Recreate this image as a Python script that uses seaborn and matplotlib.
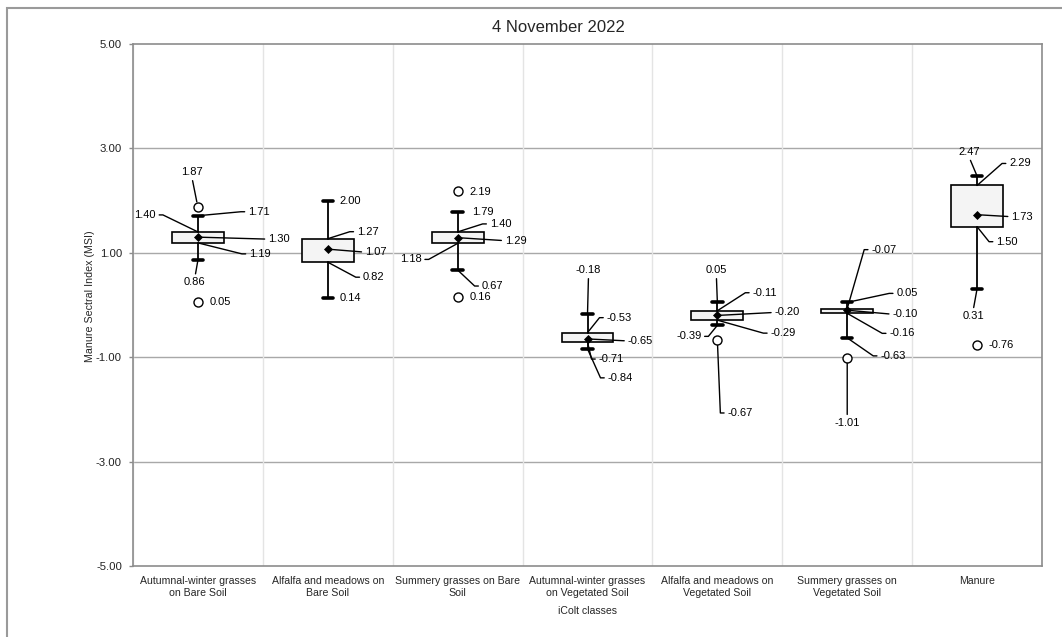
import numpy as np
import pandas as pd
import matplotlib
matplotlib.use("Agg")
import matplotlib.pyplot as plt
from matplotlib.patches import Rectangle
import seaborn as sns

# ================= DATA =================
categories = [
    "Autumnal-winter grasses\non Bare Soil",
    "Alfalfa and meadows on\nBare Soil",
    "Summery grasses on Bare\nSoil",
    "Autumnal-winter grasses\non Vegetated Soil",
    "Alfalfa and meadows on\nVegetated Soil",
    "Summery grasses on\nVegetated Soil",
    "Manure",
]
whis_hi = [1.71, 2.00, 1.79, -0.18, 0.05, 0.05, 2.47]
q3 = [1.40, 1.27, 1.40, -0.53, -0.11, -0.07, 2.29]
means = [1.30, 1.07, 1.29, -0.65, -0.20, -0.10, 1.73]
q1 = [1.19, 0.82, 1.18, -0.71, -0.29, -0.16, 1.50]
whis_lo = [0.86, 0.14, 0.67, -0.84, -0.39, -0.63, 0.31]
outliers = [[1.87, 0.05], [], [2.19, 0.16], [], [-0.67], [-1.01], [-0.76]]
y_ticks = [-5, -3, -1, 1, 3, 5]

# label placement (offsets in pixels from the point, leader kind)
label_layout = {
    0: [("out0", -6, 35, "center", "line"), ("hi", 50, 4, "left", "arm"),
        ("q3", -42, 17, "right", "arm"), ("mean", 70, -2, "left", "line"),
        ("q1", 51, -11, "left", "arm"), ("lo", -3, -22, "center", "line"),
        ("out1", 12, 0, "left", None)],
    1: [("hi", 12, 0, "left", None), ("q3", 29, 7, "left", "arm"),
        ("mean", 37, -3, "left", "line"), ("q1", 35, -15, "left", "arm"),
        ("lo", 12, 0, "left", None)],
    2: [("out0", 12, -1, "left", None), ("hi", 14, 0, "left", None),
        ("q3", 32, 8, "left", "arm"), ("mean", 47, -3, "left", "line"),
        ("q1", -36, -16, "right", "arm"), ("lo", 24, -16, "left", "arm"),
        ("out1", 12, 0, "left", None)],
    3: [("hi", 1, 44, "center", "line"), ("q3", 19, 15, "left", "arm"),
        ("mean", 40, -2, "left", "line"), ("q1", 11, -17, "left", "arm"),
        ("lo", 20, -29, "left", "arm")],
    4: [("hi", -1, 32, "center", "line"), ("q3", 35, 18, "left", "arm"),
        ("mean", 57, 3, "left", "line"), ("q1", 53, -13, "left", "arm"),
        ("lo", -16, -11, "right", "arm"), ("out0", 10, -73, "left", "arm")],
    5: [("hi", 49, 9, "left", "arm"), ("q3", 24, 59, "left", "arm"),
        ("mean", 45, -4, "left", "line"), ("q1", 42, -20, "left", "arm"),
        ("lo", 33, -18, "left", "arm"), ("out0", 0, -65, "center", "line")],
    6: [("hi", -8, 24, "center", "line"), ("q3", 32, 22, "left", "arm"),
        ("mean", 34, -2, "left", "line"), ("q1", 19, -15, "left", "arm"),
        ("lo", -4, -27, "center", "line"), ("out0", 11, 0, "left", None)],
}

# ================= STYLE =================
sns.set_style("white")
plt.rcParams["font.family"] = ["Liberation Sans", "DejaVu Sans"]

fig = plt.figure(figsize=(10.62, 6.37), dpi=100)
ax = fig.add_axes([133 / 1062, 1 - 566 / 637, (1042 - 133) / 1062, (566 - 44) / 637])

# ================= BOXES =================
stats = []
for i in range(len(categories)):
    stats.append(dict(med=means[i], q1=q1[i], q3=q3[i],
                      whislo=whis_lo[i], whishi=whis_hi[i], fliers=[]))

ax.bxp(stats, positions=range(len(categories)), widths=0.4, capwidths=0.08,
       showfliers=False, showmeans=False, patch_artist=True,
       boxprops=dict(facecolor="#f4f4f4", edgecolor="black", linewidth=1.2),
       whiskerprops=dict(color="black", linewidth=1.3),
       capprops=dict(color="black", linewidth=2.6),
       medianprops=dict(linewidth=0), zorder=2)

mean_df = pd.DataFrame({"cls": categories, "val": means})
out_df = pd.DataFrame(
    [(categories[i], v) for i, vals in enumerate(outliers) for v in vals],
    columns=["cls", "val"])

sns.stripplot(data=out_df, x="cls", y="val", order=categories, jitter=False,
              marker="o", color="white", edgecolor="black", linewidth=1,
              size=6.5, ax=ax, zorder=4)
sns.stripplot(data=mean_df, x="cls", y="val", order=categories, jitter=False,
              marker="D", color="black", size=4.6, ax=ax, zorder=5)

# ================= LABELS =================
lookup = {"hi": whis_hi, "q3": q3, "mean": means, "q1": q1, "lo": whis_lo}
for i, specs in label_layout.items():
    for stat, dx, dy, ha, kind in specs:
        if stat.startswith("out"):
            val = outliers[i][int(stat[3:])]
            shrink_b = 4
        else:
            val = lookup[stat][i]
            shrink_b = 0
        props = None
        if kind is not None:
            if ha == "center":
                rel = (0.5, 0.0) if dy > 0 else (0.5, 1.0)
            elif ha == "left":
                rel = (0.0, 0.5)
            else:
                rel = (1.0, 0.5)
            props = dict(arrowstyle="-", color="black", lw=1.0, relpos=rel,
                         shrinkA=0, shrinkB=shrink_b)
            if kind == "arm":
                ang = 180 if ha == "left" else 0
                props["connectionstyle"] = f"arc,angleA={ang},armA=7,angleB=0,armB=0,rad=0"
        ax.annotate(f"{val:.2f}", xy=(i, val), xytext=(dx, dy),
                    textcoords="offset pixels", ha=ha, va="center",
                    fontsize=8, color="black", arrowprops=props, zorder=6)

# ================= AXES =================
ax.set_xlim(-0.5, len(categories) - 0.5)
ax.set_ylim(-5, 5)
ax.set_yticks(y_ticks)
ax.set_yticklabels([f"{t:.2f}" for t in y_ticks], fontsize=8.2, color="#222222")
ax.set_xticks(range(len(categories)))
ax.set_xticklabels(categories, fontsize=7.6,
                   family=["Liberation Sans Narrow", "Liberation Sans"],
                   linespacing=1.3)
ax.set_xticks(np.arange(-0.5, len(categories), 1), minor=True)
ax.tick_params(axis="x", which="major", length=0, pad=7)
ax.tick_params(axis="x", which="minor", length=4, color="#8c8c8c", width=1)
ax.tick_params(axis="y", length=3, color="#8c8c8c", width=1, pad=5, left=True)

ax.grid(False)
ax.grid(axis="x", which="minor", color="#e4e4e4", linewidth=1, zorder=0)
for t in [-3, -1, 1, 3]:
    ax.axhline(t, color="#a8a8a8", linewidth=1, zorder=0.5)

for s in ax.spines.values():
    s.set_color("#8c8c8c")
    s.set_linewidth(1.2)

ax.set_xlabel("iColt classes", fontsize=7.6, labelpad=6,
              family=["Liberation Sans Narrow", "Liberation Sans"])
ax.set_ylabel("")

fig.text(90 / 1062, 1 - 296 / 637, "Manure Sectral Index (MSI)", rotation=90,
         ha="center", va="center", fontsize=7.7)
fig.text(558 / 1062, 1 - 27 / 637, "4 November 2022", ha="center",
         va="center", fontsize=12)

fig.add_artist(Rectangle((7 / 1062, -0.1), 2, 1 - 8 / 637 + 0.1,
                         transform=fig.transFigure, fill=False,
                         edgecolor="#9a9a9a", linewidth=1.5))

fig.savefig("out.png", dpi=100)
plt.close(fig)
